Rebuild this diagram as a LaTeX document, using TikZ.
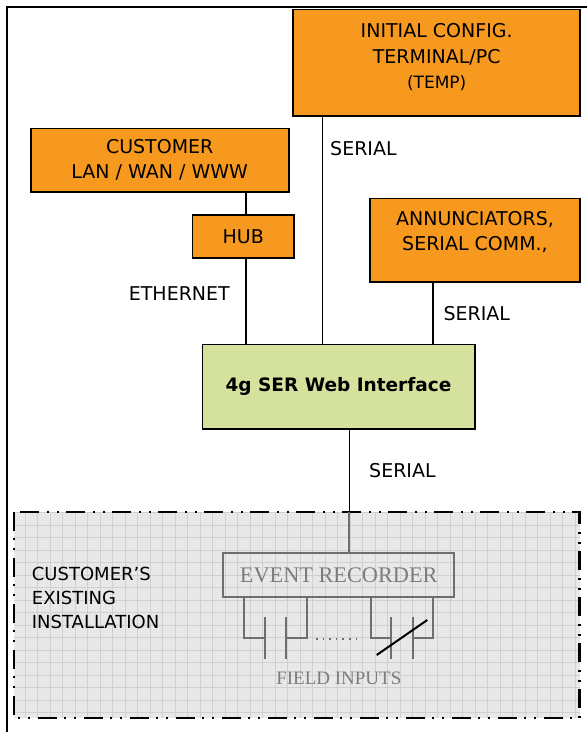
\documentclass[tikz,border=0pt]{standalone}
\usepackage{fontspec}
\setmainfont{DejaVu Sans}
\newfontfamily\recfont{Liberation Serif}

\definecolor{boxorange}{HTML}{F7991F}
\definecolor{webgreen}{HTML}{D4E29D}
\definecolor{sitegray}{HTML}{E8E8E8}
\definecolor{gridgray}{HTML}{D0D0D0}
\definecolor{wiregray}{HTML}{6E6E6E}
\definecolor{recgray}{HTML}{7C7C7C}

\tikzset{
  orangebox/.style={draw=black, line width=1.6pt, fill=boxorange, inner sep=0pt},
  boxtext/.style={font=\fontsize{19}{25.5}\selectfont, align=center, inner sep=0pt},
  webbox/.style={draw=black, line width=1.6pt, fill=webgreen, inner sep=0pt, font=\fontsize{18.5}{22}\selectfont\bfseries},
  recbox/.style={draw=wiregray, line width=2pt, inner sep=0pt, text=recgray, font=\fontsize{22.3}{26}\recfont},
  fieldtext/.style={text=recgray, inner sep=0pt, font=\fontsize{19}{22}\recfont},
  linklabel/.style={inner sep=0pt, font=\fontsize{19}{22}\selectfont},
  sitetext/.style={inner sep=0pt, align=left, font=\fontsize{18}{24}\selectfont},
  link/.style={draw=black, line width=1.6pt},
  wire/.style={draw=wiregray, line width=2pt},
  sitedash/.style={draw=black, line width=2.5pt, dash pattern={on 19pt off 7pt on 2pt off 8pt on 2pt off 8pt}}
}

\begin{document}
\begin{tikzpicture}[x=1pt,y=1pt,yscale=-1,xscale=1]
\useasboundingbox (0,0) rectangle (587,732);

%Shape: Outer frame
\draw[line width=2pt] (6.7,732) -- (6.7,6.7) -- (587,6.7);

%Shape: Customer's installation area
\fill[sitegray] (14,512) rectangle (579.5,718);
\begin{scope}
  \clip (14,512) rectangle (579.5,718);
  \draw[gridgray, line width=0.6pt, step=12.5pt] (14,512) grid (580,718);
\end{scope}
\draw[sitedash] (14,512) rectangle (579.5,718);

%Shape: Boxes
\node[orangebox, minimum width=287pt, minimum height=106.4pt] (cfg) at (436.7,62.5) {};
\node[boxtext] (cfgtext) at (436.7,57.5) {INITIAL CONFIG.\\TERMINAL/PC\\{\fontsize{17}{20}\selectfont (TEMP)}};
\node[orangebox, boxtext, minimum width=258pt, minimum height=63.4pt] (cust) at (159.7,160) {CUSTOMER\\LAN / WAN / WWW};
\node[orangebox, boxtext, minimum width=101.3pt, minimum height=42.7pt] (hub) at (243.3,236.4) {HUB};
\node[orangebox, minimum width=210pt, minimum height=83.4pt] (ann) at (475,240) {};
\node[boxtext] (anntext) at (475,232) {ANNUNCIATORS,\\SERIAL COMM.,};
\node[webbox, minimum width=272.4pt, minimum height=84.4pt] (web) at (338.5,386.5) {4g SER Web Interface};
\node[recbox, minimum width=230.7pt, minimum height=43.4pt] (rec) at (338.7,575) {EVENT RECORDER};

%Straight Lines: connectors
\coordinate (ethtap) at (245.7,0);
\coordinate (cfgtap) at (322.3,0);
\coordinate (anntap) at (432.7,0);
\coordinate (rectap) at (349.3,512);
\draw[link] (cust.south -| ethtap) -- (hub.north -| ethtap);
\draw[link] (hub.south -| ethtap) -- (web.north -| ethtap);
\draw[link] (cfg.south -| cfgtap) -- (web.north -| cfgtap);
\draw[link] (ann.south -| anntap) -- (web.north -| anntap);
\draw[link] (web.south -| rectap) -- (rectap);
\draw[wire] (rectap) -- (rec.north -| rectap);

%Straight Lines: field contacts
\foreach \lx/\rx in {244.3/307.3, 370.7/432.7} {
  \draw[wire] (\lx,596.7) |- ({\lx+20.5},638);
  \draw[wire] ({\lx+20.5},617) -- ({\lx+20.5},659);
  \draw[wire] ({\lx+42},617) -- ({\lx+42},659);
  \draw[wire] ({\lx+42},638) -| (\rx,596.7);
}
\draw[wiregray, line width=1.6pt, dash pattern=on 1.6pt off 5pt] (316,639) -- (362,639);
\draw[line width=2pt] (376.7,655) -- (427.3,620);

% Text Node
\node[linklabel, anchor=west] (serialcfg) at (330,148.5) {SERIAL};
% Text Node
\node[linklabel, anchor=east] (ethlabel) at (230,294) {ETHERNET};
% Text Node
\node[linklabel, anchor=west] (serialann) at (443.3,313.3) {SERIAL};
% Text Node
\node[linklabel, anchor=west] (serialrec) at (369,470.8) {SERIAL};
% Text Node
\node[sitetext, anchor=west] (sitelabel) at (31.7,598) {CUSTOMER’S\\EXISTING\\INSTALLATION};
% Text Node
\node[fieldtext] (field) at (338.8,678.7) {FIELD INPUTS};

\end{tikzpicture}
\end{document}
